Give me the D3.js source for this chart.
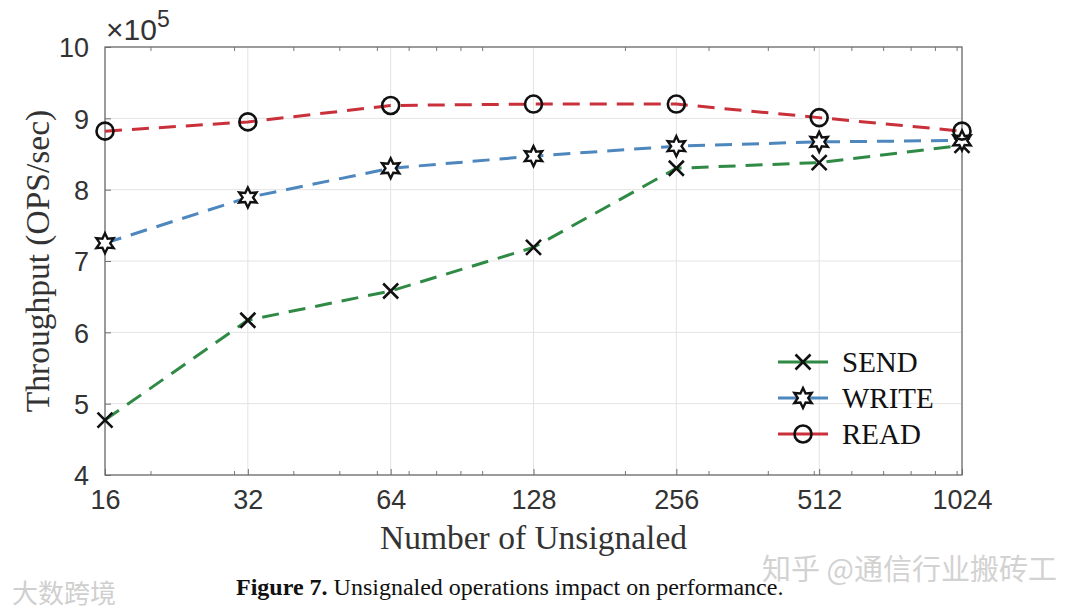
<!DOCTYPE html>
<html>
<head>
<meta charset="utf-8">
<script src="https://cdn.jsdelivr.net/npm/d3@7"></script>
<style>
  body { margin: 0; background: #fff; }
  svg { display: block; }
</style>
</head>
<body>
<svg id="chart"></svg>
<script>
const categories = [16, 32, 64, 128, 256, 512, 1024];
const sendValues = [4.77, 6.17, 6.58, 7.19, 8.30, 8.38, 8.62];
const writeValues = [7.25, 7.89, 8.30, 8.47, 8.61, 8.67, 8.69];
const readValues = [8.82, 8.95, 9.18, 9.20, 9.20, 9.01, 8.82];
const yTicks = [4, 5, 6, 7, 8, 9, 10];

const series = [
  { name: 'SEND', values: sendValues, color: '#2f8a45', marker: 'x' },
  { name: 'WRITE', values: writeValues, color: '#4d87bd', marker: 'hex' },
  { name: 'READ', values: readValues, color: '#c9303a', marker: 'o' }
];

const width = 1080, height = 614;
const margin = { top: 47, right: 118, bottom: 139, left: 105 };
const w = width - margin.left - margin.right;
const h = height - margin.top - margin.bottom;

const svg = d3.select('#chart').attr('width', width).attr('height', height);
const g = svg.append('g').attr('transform', `translate(${margin.left},${margin.top})`);

const x = d3.scaleLog().base(2).domain([16, 1024]).range([0, w]);
const y = d3.scaleLinear().domain([4, 10]).range([h, 0]);

// grid
g.append('g').selectAll('line').data(categories).enter().append('line')
  .attr('x1', d => x(d)).attr('x2', d => x(d))
  .attr('y1', 0).attr('y2', h)
  .attr('stroke', '#e3e3e3').attr('stroke-width', 1);
g.append('g').selectAll('line').data(yTicks).enter().append('line')
  .attr('x1', 0).attr('x2', w)
  .attr('y1', d => y(d)).attr('y2', d => y(d))
  .attr('stroke', '#e3e3e3').attr('stroke-width', 1);

// minor log ticks on bottom and top
const minor = [];
[10, 100, 1000].forEach(dec => {
  for (let k = 1; k < 10; k++) {
    const v = dec * k;
    if (v > 16 && v < 1024 && !categories.includes(v)) minor.push(v);
  }
});
g.append('g').selectAll('line').data(minor).enter().append('line')
  .attr('x1', d => x(d)).attr('x2', d => x(d))
  .attr('y1', h).attr('y2', h - 4)
  .attr('stroke', '#777').attr('stroke-width', 1);
g.append('g').selectAll('line').data(minor).enter().append('line')
  .attr('x1', d => x(d)).attr('x2', d => x(d))
  .attr('y1', 0).attr('y2', 4)
  .attr('stroke', '#777').attr('stroke-width', 1);

// box
g.append('rect').attr('x', 0).attr('y', 0).attr('width', w).attr('height', h)
  .attr('fill', 'none').attr('stroke', '#6e6e6e').attr('stroke-width', 1.3);

// axes
const xAxis = g.append('g').attr('transform', `translate(0,${h})`)
  .call(d3.axisBottom(x).tickValues(categories).tickFormat(d3.format('d')).tickSize(6).tickPadding(4));
const yAxis = g.append('g')
  .call(d3.axisLeft(y).tickValues(yTicks).tickFormat(d3.format('d')).tickSize(6).tickPadding(10));
[xAxis, yAxis].forEach(a => {
  a.select('.domain').remove();
  a.selectAll('.tick line').attr('stroke', '#6e6e6e').attr('stroke-width', 1)
    .attr('transform', a === xAxis ? 'scale(1,-1)' : 'scale(-1,1)');
  a.selectAll('text').attr('fill', '#333').style('font-family', '"Liberation Sans", Arial, sans-serif').style('font-size', '27px');
});
xAxis.selectAll('text').attr('dy', '0.9em');
yAxis.selectAll('text').attr('dy', '0.36em');

// exponent
const expo = g.append('text').attr('x', 1).attr('y', -7)
  .attr('fill', '#333').style('font-family', '"Liberation Sans", Arial, sans-serif').style('font-size', '30px');
expo.append('tspan').text('×10');
expo.append('tspan').attr('dy', -13).style('font-size', '23px').text('5');

// axis titles
svg.append('text').attr('x', margin.left + w / 2).attr('y', 549)
  .attr('text-anchor', 'middle').attr('fill', '#333')
  .style('font-family', '"Liberation Serif", "Times New Roman", serif').style('font-size', '33.5px')
  .text('Number of Unsignaled');
svg.append('text').attr('transform', `translate(49,${margin.top + h / 2}) rotate(-90)`)
  .attr('text-anchor', 'middle').attr('fill', '#333')
  .style('font-family', '"Liberation Serif", "Times New Roman", serif').style('font-size', '33.5px')
  .text('Throughput (OPS/sec)');

// markers
function drawMarker(sel, type) {
  if (type === 'x') {
    const s = 7.5;
    sel.append('path').attr('d', `M${-s},${-s}L${s},${s}M${-s},${s}L${s},${-s}`)
      .attr('stroke', '#111').attr('stroke-width', 2.6).attr('fill', 'none');
  } else if (type === 'o') {
    sel.append('circle').attr('r', 8.5)
      .attr('stroke', '#111').attr('stroke-width', 2.6).attr('fill', 'none');
  } else {
    const R = 10, r = 5.2;
    const pts = d3.range(12).map(i => {
      const a = -Math.PI / 2 + i * Math.PI / 6;
      const rr = i % 2 === 0 ? R : r;
      return [rr * Math.cos(a), rr * Math.sin(a)];
    });
    sel.append('path').attr('d', 'M' + pts.join('L') + 'Z')
      .attr('stroke', '#111').attr('stroke-width', 2.4).attr('fill', '#fff');
  }
}

const line = d3.line().x((d, i) => x(categories[i])).y(d => y(d));

series.forEach(s => {
  g.append('path').datum(s.values)
    .attr('d', line).attr('fill', 'none')
    .attr('stroke', s.color).attr('stroke-width', 3)
    .attr('stroke-dasharray', '17,10');
});
series.forEach(s => {
  s.values.forEach((v, i) => {
    const m = g.append('g').attr('transform', `translate(${x(categories[i])},${y(v)})`);
    drawMarker(m, s.marker);
  });
});

// legend
const legend = svg.append('g').attr('transform', 'translate(778,362)');
series.forEach((s, i) => {
  const row = legend.append('g').attr('transform', `translate(0,${i * 36})`);
  row.append('line').attr('x1', 0).attr('x2', 50).attr('y1', 0).attr('y2', 0)
    .attr('stroke', s.color).attr('stroke-width', 3);
  drawMarker(row.append('g').attr('transform', 'translate(25,0)'), s.marker);
  row.append('text').attr('x', 64).attr('y', 0).attr('dy', '0.35em')
    .attr('fill', '#111')
    .style('font-family', '"Liberation Serif", "Times New Roman", serif').style('font-size', '29px')
    .text(s.name);
});

// caption
const cap = svg.append('text').attr('x', 236).attr('y', 595)
  .attr('fill', '#111')
  .style('font-family', '"Liberation Serif", "Times New Roman", serif').style('font-size', '24px');
cap.append('tspan').attr('font-weight', 'bold').text('Figure 7.');
cap.append('tspan').text(' Unsignaled operations impact on performance.');

// watermarks
svg.append('text').attr('x', 12).attr('y', 603).attr('fill', '#cfcfcf')
  .style('font-family', '"Noto Sans CJK SC", sans-serif').style('font-size', '26px').text('大数跨境');
svg.append('text').attr('x', 762).attr('y', 580).attr('fill', '#d2d2d2')
  .style('font-family', '"Noto Sans CJK SC", sans-serif').style('font-size', '29px').text('知乎 @通信行业搬砖工');
</script>
</body>
</html>
